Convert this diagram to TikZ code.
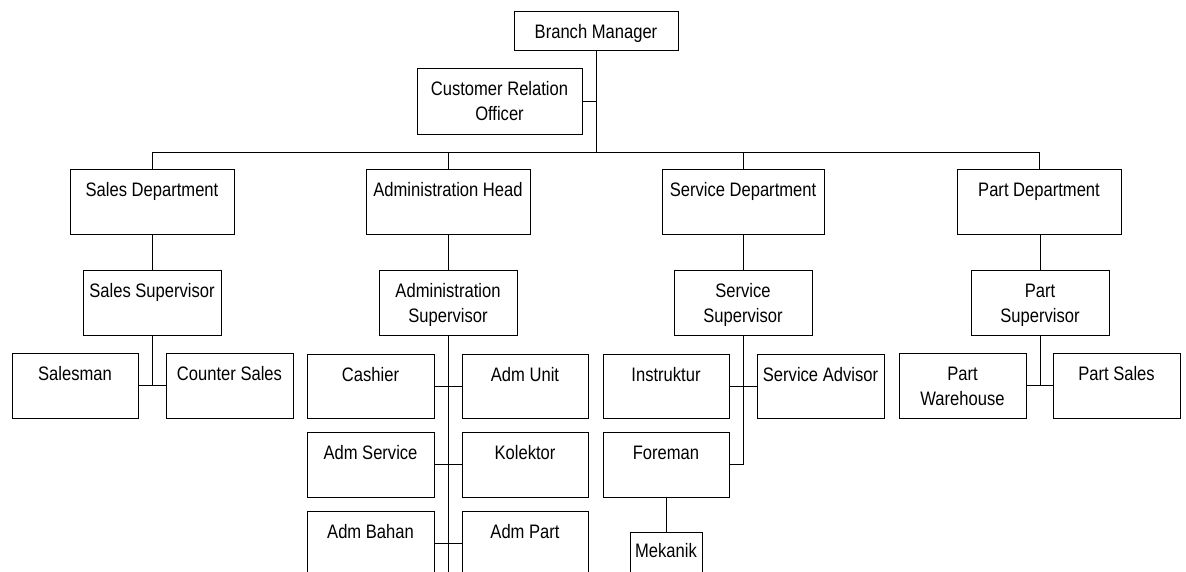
\documentclass[tikz,border=0pt]{standalone}
\usepackage{fontspec}
\setmainfont{Liberation Sans}[FakeStretch=0.85]
\begin{document}
\begin{tikzpicture}[x=1pt,y=-1pt,
  box/.style={draw=black, line width=0.8pt, rectangle, inner sep=0pt, outer sep=0pt},
  lbl/.style={inner sep=0pt, outer sep=0pt, anchor=base, font=\fontsize{19.5}{25}\selectfont},
  conn/.style={draw=black, line width=0.8pt}]
\clip (0,0) rectangle (1186,571);
\fill[white] (0,0) rectangle (1186,571);
% \obox{name}{x1}{y1}{x2}{y2}{text}{offset}
\newcommand\obox[7]{%
  \node[box, anchor=north west, minimum width={(#4-#2)*1pt}, minimum height={(#5-#3)*1pt}] (#1) at (#2,#3) {};
  \node[lbl] (#1-t) at ([yshift=-#7pt]#1.north) {\parbox[t]{200pt}{\centering #6}};
}
\obox{bm}{514}{11}{678}{50}{Branch Manager}{27}
\obox{cro}{417}{68}{582}{134}{Customer Relation\\Officer}{27}
\obox{sales}{70}{169}{234}{234}{Sales Department}{27}
\obox{admin}{366}{169}{530}{234}{Administration Head}{27}
\obox{service}{662}{169}{824}{234}{Service Department}{27}
\obox{part}{957}{169}{1121}{234}{Part Department}{27}
\obox{ssup}{83}{270}{221}{335}{Sales Supervisor}{27}
\obox{asup}{379}{270}{517}{335}{Administration\\Supervisor}{27}
\obox{svsup}{674}{270}{812}{335}{Service\\Supervisor}{27}
\obox{psup}{971}{270}{1109}{335}{Part\\Supervisor}{27}
\obox{salesman}{12}{353}{138}{418}{Salesman}{27}
\obox{counter}{166}{353}{293}{418}{Counter Sales}{27}
\obox{cashier}{307}{354}{434}{418}{Cashier}{27}
\obox{admunit}{462}{354}{588}{418}{Adm Unit}{27}
\obox{admservice}{307}{432}{434}{497}{Adm Service}{27}
\obox{kolektor}{462}{432}{588}{497}{Kolektor}{27}
\obox{admbahan}{307}{511}{434}{576}{Adm Bahan}{27}
\obox{admpart}{462}{511}{588}{576}{Adm Part}{27}
\obox{instruktur}{603}{354}{729}{418}{Instruktur}{27}
\obox{sadvisor}{757}{354}{884}{418}{Service Advisor}{27}
\obox{foreman}{603}{432}{729}{497}{Foreman}{27}
\obox{mekanik}{630}{532}{702}{597}{Mekanik}{25}
\obox{pwh}{899}{353}{1026}{418}{Part\\Warehouse}{27}
\obox{psales}{1053}{353}{1180}{418}{Part Sales}{27}
\coordinate (busy) at (0,152);
\coordinate (aend) at (0,580);
% top level
\draw[conn] (bm.south) -- (bm.south |- busy);
\draw[conn] (cro.east) -- (cro.east -| bm.south);
\draw[conn] (sales.north) -- (sales.north |- busy) -- (part.north |- busy) -- (part.north);
\draw[conn] (admin.north) -- (admin.north |- busy);
\draw[conn] (service.north) -- (service.north |- busy);
% departments to supervisors
\draw[conn] (ssup.north) -- (ssup.north |- sales.south);
\draw[conn] (asup.north) -- (asup.north |- admin.south);
\draw[conn] (svsup.north) -- (svsup.north |- service.south);
\draw[conn] (psup.north) -- (psup.north |- part.south);
% sales
\draw[conn] (ssup.south) -- (ssup.south |- salesman.east);
\draw[conn] (salesman.east) -- (counter.west);
% admin
\draw[conn] (asup.south) -- (asup.south |- aend);
\draw[conn] (cashier.east) -- (admunit.west);
\draw[conn] (admservice.east) -- (kolektor.west);
\draw[conn] (admbahan.east) -- (admpart.west);
% service
\draw[conn] (svsup.south) |- (foreman.east);
\draw[conn] (instruktur.east) -- (sadvisor.west);
\draw[conn] (mekanik.north) -- (mekanik.north |- foreman.south);
% part
\draw[conn] (psup.south) -- (psup.south |- pwh.east);
\draw[conn] (pwh.east) -- (psales.west);
\end{tikzpicture}
\end{document}
